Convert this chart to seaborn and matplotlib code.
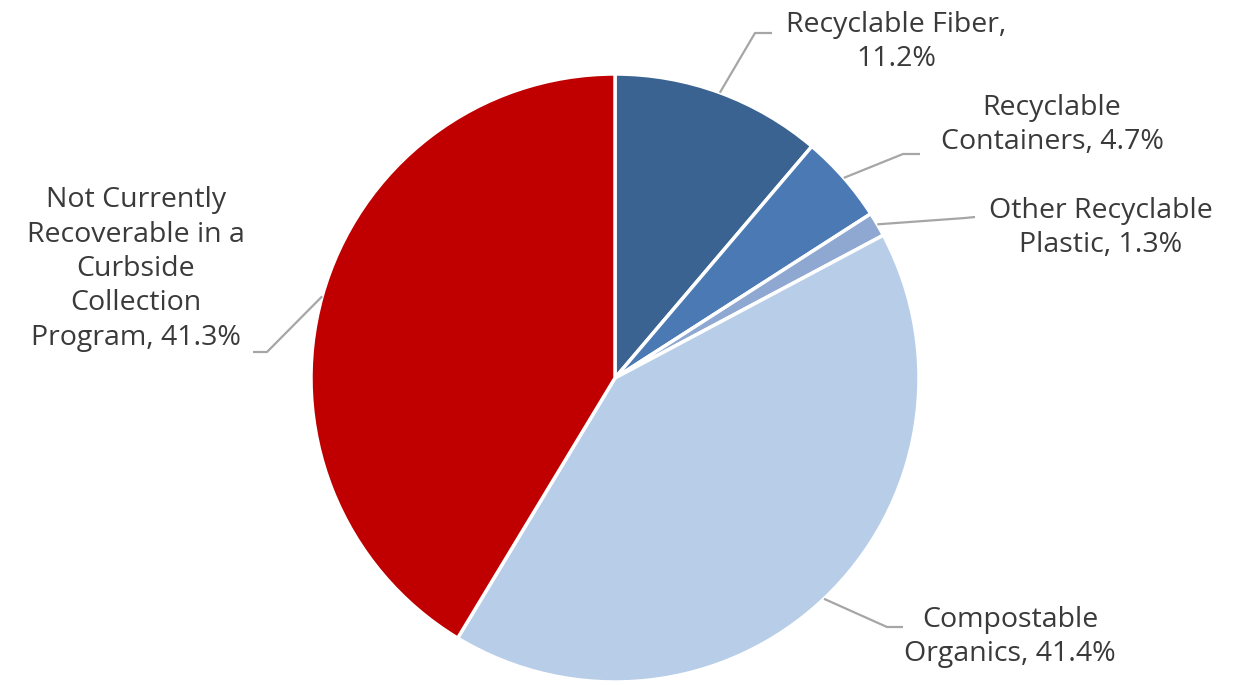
import numpy as np
import matplotlib
matplotlib.use("Agg")
import matplotlib.pyplot as plt
import seaborn as sns

# Composition of the waste stream (percent)
categories = [
    "Recyclable Fiber",
    "Recyclable Containers",
    "Other Recyclable Plastic",
    "Compostable Organics",
    "Not Currently Recoverable in a Curbside Collection Program",
]
shares = [11.2, 4.7, 1.3, 41.4, 41.3]
label_texts = [
    "Recyclable Fiber,\n11.2%",
    "Recyclable\nContainers, 4.7%",
    "Other Recyclable\nPlastic, 1.3%",
    "Compostable\nOrganics, 41.4%",
    "Not Currently\nRecoverable in a\nCurbside\nCollection\nProgram, 41.3%",
]
slice_colors = ["#3B6391", "#4A79B4", "#8EA8D2", "#B8CEE8", "#C00000"]

sns.set_theme(style="white")
plt.rcParams["font.family"] = ["Open Sans", "DejaVu Sans"]

W, H = 1250, 685
fig = plt.figure(figsize=(W / 100, H / 100), dpi=100)
ax = fig.add_axes([0, 0, 1, 1])

cx, cy, r = 615, H - 378, 304
palette = sns.color_palette(slice_colors)
wedges, _ = ax.pie(
    shares,
    colors=palette,
    startangle=90,
    counterclock=False,
    center=(cx, cy),
    radius=r,
    wedgeprops=dict(edgecolor="white", linewidth=2.5),
    frame=True,
)
ax.set_xlim(0, W)
ax.set_ylim(0, H)
ax.set_aspect("equal")
ax.axis("off")

# Elbow of each leader line, end of its horizontal run, and text centre
elbows = [(755, 33), (903, 154), (965, 218), (887, 627), (267, 352)]
ends = [(772, 33), (920, 154), (975, 217), (903, 627), (253, 352)]
text_pos = [(896, 42), (1052, 125), (1101, 228), (1010, 637), (136, 269)]

text_color = "#3A3A3A"
for w, el, en, tp, txt in zip(wedges, elbows, ends, text_pos, label_texts):
    ang = np.deg2rad((w.theta1 + w.theta2) / 2)
    x0, y0 = cx + r * np.cos(ang), cy + r * np.sin(ang)
    ax.plot([x0, el[0], en[0]], [y0, H - el[1], H - en[1]],
            color="#A6A6A6", lw=1.6, solid_capstyle="butt")
    ax.text(tp[0], H - tp[1], txt, ha="center", va="center",
            multialignment="center", fontsize=20.5, color=text_color,
            linespacing=1.3)

fig.savefig("out.png", dpi=100, facecolor="white")
